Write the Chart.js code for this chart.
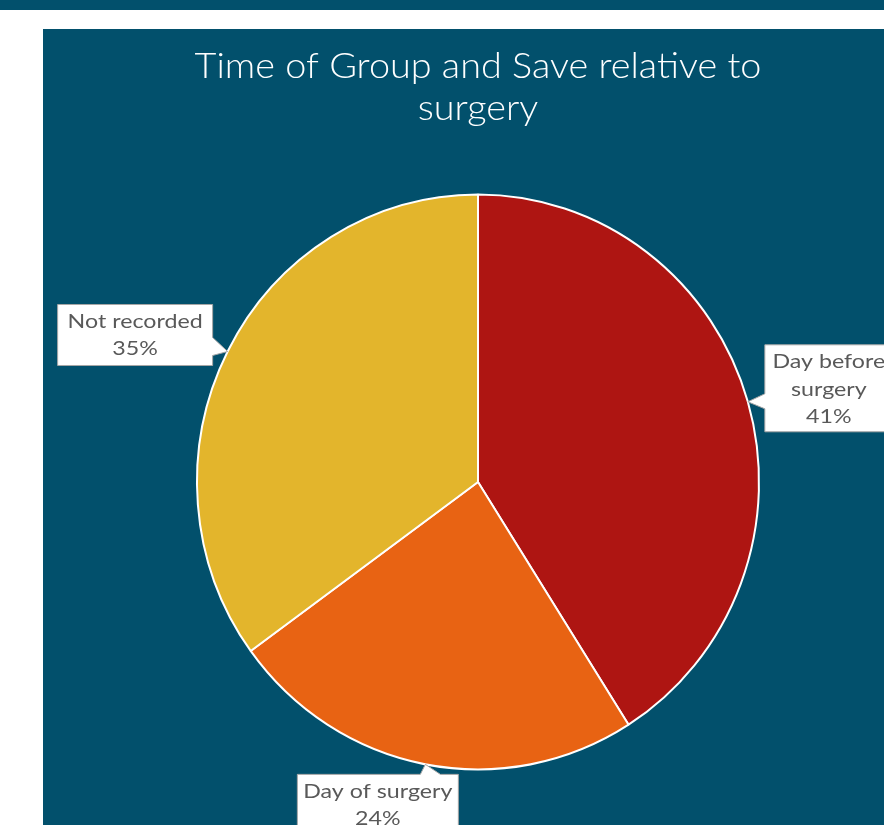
<!DOCTYPE html>
<html><head><meta charset="utf-8">
<script src="https://cdn.jsdelivr.net/npm/chart.js@4.4.1/dist/chart.umd.min.js"></script>
<style>html,body{margin:0;padding:0;background:#fff;}#wrap{position:relative;width:884px;height:825px;}</style>
</head><body><div id="wrap"><canvas id="c" width="884" height="825"></canvas></div>
<script>
const categories = ['Day before surgery', 'Day of surgery', 'Not recorded'];
const values = [41, 24, 35];
const sliceColors = ['#AE1512', '#E86313', '#E3B52C'];
const titleLines = ['Time of Group and Save relative to', 'surgery'];

const BG = '#02506C';
const FONT = 'Lato';
const TITLE_XSCALE = 1.05;
const LABEL_XSCALE = 1.16;
const PIE_YSCALE = 1.023;

// callout box geometry relative to the slice tip (style, not data)
const callouts = [
  {dx: 17, dy: -57, w: 128, h: 87, side: 'left', a: 49, b: 64},
  {dx: -128, dy: 10, w: 161, h: 80, side: 'top', a: 123, b: 143},
  {dx: -170, dy: -47, w: 155, h: 61, side: 'right', a: 33, b: 51}
];

function drawScaledText(ctx, text, x, y, scale) {
  ctx.save();
  ctx.translate(x, y);
  ctx.scale(scale, 1);
  ctx.fillText(text, 0, 0);
  ctx.restore();
}

function wrap(ctx, text, maxW, scale) {
  const words = text.split(' ');
  const lines = [];
  let cur = '';
  for (const w of words) {
    const t = cur ? cur + ' ' + w : w;
    if (ctx.measureText(t).width * scale > maxW && cur) { lines.push(cur); cur = w; }
    else cur = t;
  }
  if (cur) lines.push(cur);
  return lines;
}

const bgPlugin = {
  id: 'bg',
  beforeDraw(chart) {
    const ctx = chart.ctx;
    ctx.save();
    ctx.fillStyle = '#fff';
    ctx.fillRect(0, 0, chart.width, chart.height);
    ctx.fillStyle = BG;
    ctx.fillRect(0, 0, chart.width, 10);
    ctx.fillRect(43, 29, chart.width - 43, chart.height - 29);
    ctx.fillStyle = '#FFFFFF';
    ctx.font = '300 36px ' + FONT;
    ctx.textAlign = 'center';
    ctx.textBaseline = 'middle';
    drawScaledText(ctx, titleLines[0], 478, 66, TITLE_XSCALE);
    drawScaledText(ctx, titleLines[1], 478, 108, TITLE_XSCALE);
    ctx.restore();
  },
  beforeDatasetsDraw(chart) {
    const ctx = chart.ctx;
    const a = chart.chartArea;
    const cx = (a.left + a.right) / 2, cy = (a.top + a.bottom) / 2;
    ctx.save();
    ctx.translate(cx, cy);
    ctx.scale(1, PIE_YSCALE);
    ctx.translate(-cx, -cy);
  },
  afterDatasetsDraw(chart) {
    chart.ctx.restore();
  }
};

const calloutPlugin = {
  id: 'callouts',
  afterDatasetsDraw(chart) {
    const ctx = chart.ctx;
    const meta = chart.getDatasetMeta(0);
    const total = values.reduce((s, v) => s + v, 0);
    ctx.save();
    meta.data.forEach((arc, i) => {
      const p = arc.getProps(['x', 'y', 'startAngle', 'endAngle', 'outerRadius'], true);
      const mid = (p.startAngle + p.endAngle) / 2;
      const tx = p.x + Math.cos(mid) * p.outerRadius;
      const ty = p.y + Math.sin(mid) * p.outerRadius * PIE_YSCALE;
      const c = callouts[i];
      const L = tx + c.dx, T = ty + c.dy, R = L + c.w, B = T + c.h;
      ctx.beginPath();
      ctx.moveTo(L, T);
      if (c.side === 'top') { ctx.lineTo(L + c.a, T); ctx.lineTo(tx, ty); ctx.lineTo(L + c.b, T); }
      ctx.lineTo(R, T);
      if (c.side === 'right') { ctx.lineTo(R, T + c.a); ctx.lineTo(tx, ty); ctx.lineTo(R, T + c.b); }
      ctx.lineTo(R, B);
      ctx.lineTo(L, B);
      if (c.side === 'left') { ctx.lineTo(L, T + c.b); ctx.lineTo(tx, ty); ctx.lineTo(L, T + c.a); }
      ctx.closePath();
      ctx.fillStyle = '#FFFFFF';
      ctx.fill();
      ctx.strokeStyle = '#A6A6A6';
      ctx.lineWidth = 1;
      ctx.stroke();
      ctx.fillStyle = '#595959';
      ctx.font = '400 20px ' + FONT;
      ctx.textAlign = 'center';
      ctx.textBaseline = 'middle';
      const lines = wrap(ctx, categories[i], c.w + 10, LABEL_XSCALE);
      lines.push(Math.round(values[i] / total * 100) + '%');
      const cx = (L + R) / 2;
      lines.forEach((ln, k) => drawScaledText(ctx, ln, cx, T + 17 + k * 27.5, LABEL_XSCALE));
    });
    ctx.restore();
  }
};

new Chart(document.getElementById('c'), {
  type: 'pie',
  data: {
    labels: categories,
    datasets: [{
      data: values,
      backgroundColor: sliceColors,
      borderColor: '#FFFFFF',
      borderWidth: 2,
      hoverOffset: 0,
      offset: 0
    }]
  },
  options: {
    responsive: false,
    animation: false,
    events: [],
    layout: {padding: {left: 196, top: 200, right: 124, bottom: 61}},
    plugins: {legend: {display: false}, title: {display: false}, tooltip: {enabled: false}}
  },
  plugins: [bgPlugin, calloutPlugin]
});
</script></body></html>
